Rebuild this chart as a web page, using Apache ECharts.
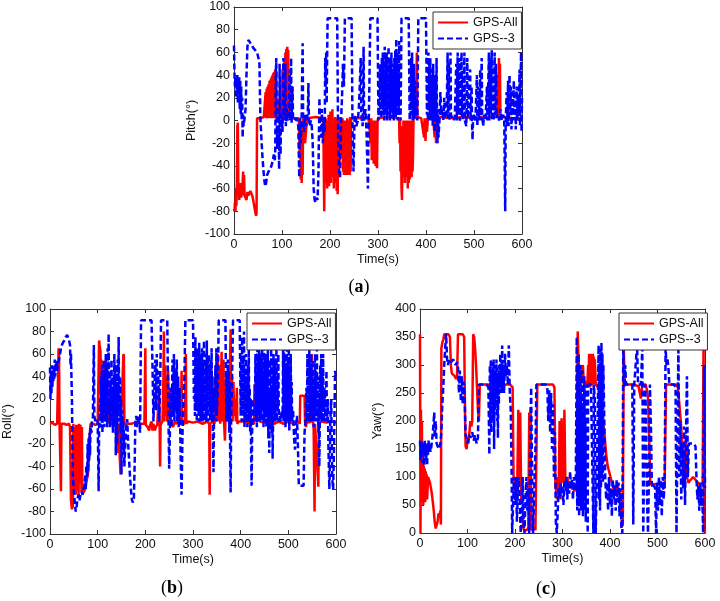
<!DOCTYPE html>
<html><head><meta charset="utf-8">
<script src="https://cdn.jsdelivr.net/npm/echarts@6/dist/echarts.min.js"></script>
<style>html,body{margin:0;padding:0;background:#fff}#c{width:720px;height:601px}</style>
</head><body><div id="c"></div>
<script>
// ---- data: [time(s), value] ----
const seriesNames = ['GPS-All', 'GPS--3'];
const xTicks = [0, 100, 200, 300, 400, 500, 600];

const pitchAll = [[0,-78],[1,-80],[2,-72],[3,-80],[4,-60],[5,-75],[6,-55],[7,-5],[8,-2],[9,-60],[10,-55],[11,-70],[12,-58],[13,-65],[14,-55],[15,-68],[16,-60],[17,-66],[18,-55],[19,-45],[20,-62],[21,-48],[22,-66],[24,-65],[26,-70],[28,-63],[30,-66],[32,-64],[34,-62],[36,-63],[38,-66],[40,-70],[42,-75],[44,-80],[46,-84],[47,-82],[48,2],[55,2],[62,3],[65,2],
[66,25],[67,2],[68,28],[69,2],[70,30],[71,3],[72,32],[73,2],[74,35],[75,3],[76,36],[77,2],[78,38],[79,3],[80,40],[81,2],[82,42],[83,3],[84,43],[85,2],[86,45],[87,3],[88,44],[89,2],[90,5],[93,3],
[95,20],[96,2],[97,30],[98,3],[99,38],[100,2],[101,45],[102,5],[103,50],[104,3],[105,55],[106,8],[107,60],[108,5],[109,63],[110,10],[111,65],[112,5],[113,62],[114,3],[115,2],
[125,2],[135,2],[137,-30],[138,2],[139,-52],[140,-10],[141,-55],[142,-5],[143,-48],[144,2],[146,-15],[148,-20],[150,-10],[152,2],[170,3],[186,2],[188,-80],[189,2],
[190,-40],[191,2],[192,-55],[193,-5],[194,-60],[195,0],[196,-50],[197,5],[198,-58],[199,-2],[200,-45],[201,8],[202,-55],[203,0],[204,-40],[205,10],[206,-50],[207,2],[208,-60],[209,-5],[210,-45],[211,3],[212,-55],[213,0],[214,-62],[215,2],[216,-65],[217,0],[218,-50],[219,3],[220,-40],[221,2],[222,-2],[224,2],
[225,-30],[226,2],[227,-45],[228,-3],[229,-48],[230,0],[231,-45],[232,-5],[233,-48],[234,0],[235,-42],[236,2],[237,-48],[238,-2],[239,-46],[240,0],[241,-48],[242,3],[243,-45],[244,2],[245,3],
[260,2],[280,3],[284,2],[285,-20],[286,2],[287,-35],[288,0],[289,-30],[290,-5],[291,-38],[292,0],[293,-32],[294,-3],[295,-40],[296,0],[297,-38],[298,-42],[299,-2],[300,2],[320,3],[344,2],
[345,-20],[346,2],[347,-45],[348,-5],[349,-60],[350,-70],[351,-10],[352,-50],[353,0],[354,-45],[355,-3],[356,-55],[357,0],[358,-48],[359,-5],[360,-50],[361,0],[362,-60],[363,-3],[364,-55],[365,0],[366,-52],[367,-5],[368,-48],[369,0],[370,-50],[371,-2],[372,-45],[373,-30],[374,2],
[376,12],[377,2],[378,15],[379,5],[381,60],[382,3],[390,2],[396,-15],[397,2],[399,-18],[400,2],[402,-10],[404,2],[415,2],[418,-15],[419,2],[421,-20],[422,2],[430,3],[450,2],[480,3],[500,2],[520,3],[545,3],
[548,20],[549,3],[550,40],[551,5],[552,55],[553,8],[554,50],[555,2],[557,5],[560,3],[580,2],[600,2]];

const pitchG3 = [[0,66],[1,40],[2,30],[3,38],[4,20],[5,35],[6,22],[7,40],[8,15],[9,35],[10,28],[11,38],[12,10],[13,35],[14,5],[15,30],[16,0],[17,20],[18,-15],[19,5],[20,-5],[22,2],[24,10],[26,40],[28,65],[30,71],[33,70],[36,67],[40,64],[44,62],[48,60],[51,55],[53,50],[55,2],[57,-15],[59,-30],[61,-42],[63,-52],[65,-58],[67,-55],[69,-48],[72,-45],[75,-44],[78,-40],[81,-35],[83,-30],[85,-35],[86,-25],[87,40],[88,55],[89,5],[90,-25],[91,-10],[92,-20],[93,5],[94,-43],[95,50],[96,0],[97,-30],[98,5],[100,2],[101,-10],[102,10],[103,55],[104,5],[105,0],[106,20],[107,50],[108,-5],[109,0],[110,10],[111,2],[112,0],[114,10],[116,45],[117,0],[119,55],[120,-2],[122,30],[123,2],[125,0],[130,2],[134,-5],[135,-30],[136,-50],[137,2],[139,-20],[141,5],[142,40],[143,68],[144,2],[146,-10],[148,5],[150,-5],[152,0],[154,10],[155,33],[156,2],[158,-5],[160,0],[162,-5],[164,-20],[166,-60],[168,-70],[170,-72],[172,-68],[174,-70],[176,-45],[177,-10],[178,20],[179,-5],[181,-15],[183,10],[185,-20],[187,0],[189,-10],[190,55],[191,30],[192,60],[193,15],[195,90],[215,90],[217,-20],[219,-45],[221,-50],[223,0],[225,20],[227,50],[229,30],[231,90],[245,90],[247,-10],[249,-45],[251,0],[253,5],[255,-5],[258,0],[260,10],[262,30],[264,55],[265,5],[268,-5],[270,65],[271,0],[274,10],[276,-10],[278,-40],[279,-60],[280,-20],[282,30],[284,90],[299,90],[301,0],[303,30],[304,50],[305,5],[306,45],[307,2],[308,55],[309,10],[310,60],[311,5],[312,45],[313,0],[314,65],[315,15],[316,55],[317,5],[318,60],[319,0],[320,50],[321,10],[322,65],[323,5],[324,55],[325,0],[326,45],[327,10],[328,60],[329,2],[330,50],[331,5],[332,40],[333,0],[334,55],[335,10],[336,62],[337,3],[338,72],[339,15],[340,60],[341,0],[342,50],[343,5],[344,70],[345,20],[347,0],[349,90],[364,90],[366,0],[367,40],[368,5],[369,55],[370,10],[371,60],[372,0],[373,45],[374,5],[375,50],[376,0],[377,35],[378,5],[380,20],[382,0],[384,90],[400,90],[402,5],[403,40],[404,0],[405,60],[406,10],[407,50],[408,0],[409,55],[410,5],[411,45],[412,0],[413,40],[414,-5],[415,50],[416,0],[417,30],[418,-10],[420,40],[421,0],[422,55],[423,-5],[424,-20],[425,10],[426,-15],[428,0],[430,25],[432,5],[434,10],[436,0],[438,20],[440,2],[443,5],[445,60],[446,2],[448,50],[449,0],[451,60],[452,5],[454,3],[456,0],[460,2],[463,50],[464,0],[466,60],[467,5],[469,55],[470,0],[472,2],[474,60],[475,3],[477,40],[478,0],[480,60],[481,0],[484,-5],[486,55],[487,2],[490,3],[492,45],[493,0],[495,30],[496,-5],[497,-17],[498,0],[500,5],[503,0],[506,40],[507,-5],[509,30],[510,0],[513,45],[514,0],[516,55],[517,5],[519,-5],[521,5],[524,0],[527,30],[528,0],[531,60],[532,0],[534,55],[535,5],[537,62],[538,0],[540,40],[541,0],[543,60],[544,5],[546,50],[547,2],[549,5],[552,0],[555,10],[558,0],[561,5],[563,0],[565,-80],[566,-2],[568,25],[569,-5],[571,35],[572,-5],[574,40],[575,5],[577,30],[578,-8],[580,20],[581,0],[583,35],[584,5],[586,10],[587,-8],[589,30],[590,0],[592,20],[593,5],[595,45],[596,-5],[598,60],[599,-10],[600,20]];

const rollAll = [[0,-2],[5,-1],[10,-3],[15,-2],[17,-2],[18,65],[19,60],[20,-2],[22,-3],[23,-62],[24,-2],[30,-2],[35,-3],[40,-2],[42,-5],[44,-70],[46,-78],[48,-75],[49,-2],[51,-60],[52,-5],[54,-65],[55,-3],[57,-62],[58,-3],[60,-68],[61,-2],[63,-55],[64,-3],[66,-62],[67,-5],[68,-65],[70,-66],[72,-64],[74,-60],[76,-55],[78,-50],[80,-45],[82,-30],[84,-8],[85,-2],[90,-2],[95,-3],[100,-2],[102,-1],[103,72],[104,68],[106,62],[107,10],[108,55],[110,55],[111,5],[112,50],[114,45],[115,0],[116,40],[118,2],[120,30],[121,0],[124,20],[125,-2],[128,15],[129,-3],[132,10],[133,-2],[136,0],[140,-2],[142,-28],[143,-2],[147,-2],[148,-47],[149,-2],[152,-2],[154,60],[155,58],[156,-2],[160,-1],[170,-2],[180,-1],[190,-2],[198,-2],[200,65],[201,-3],[205,-5],[208,-8],[210,-3],[213,0],[215,-8],[217,-2],[220,-8],[222,-5],[225,-3],[228,-2],[229,30],[230,-2],[231,-40],[232,-3],[236,0],[238,40],[239,80],[240,0],[242,50],[243,5],[245,40],[246,0],[248,45],[249,2],[252,30],[253,-2],[255,0],[258,-5],[262,0],[265,-2],[270,0],[275,-2],[276,45],[277,-1],[280,0],[283,-2],[285,60],[286,-2],[290,0],[300,-1],[310,0],[320,-2],[330,0],[334,-2],[335,-65],[336,-2],[340,0],[345,-2],[348,45],[349,0],[352,60],[353,0],[356,50],[357,-2],[360,62],[361,0],[364,55],[365,0],[367,-17],[368,0],[370,40],[371,0],[374,45],[375,5],[377,30],[378,60],[379,82],[380,5],[382,40],[383,0],[385,35],[386,5],[388,20],[390,0],[392,30],[393,-2],[396,0],[400,-1],[410,0],[420,-2],[428,-2],[429,33],[430,30],[432,10],[434,20],[436,15],[438,20],[440,0],[450,-1],[460,0],[470,-2],[480,0],[490,-2],[500,0],[510,-2],[520,0],[524,-2],[525,23],[534,23],[535,0],[537,-5],[538,-2],[540,0],[545,-1],[548,0],[549,60],[550,0],[553,-2],[555,-80],[556,-2],[560,-2],[563,-58],[564,-2],[570,0],[580,-1],[590,0],[600,-1]];

const rollG3 = [[0,48],[1,20],[2,45],[3,25],[4,50],[5,30],[6,45],[7,35],[8,50],[9,38],[10,55],[11,40],[12,52],[13,45],[14,55],[15,45],[17,50],[19,55],[21,60],[23,65],[25,68],[27,70],[30,72],[33,75],[36,77],[38,76],[40,72],[42,68],[43,50],[44,60],[45,40],[46,20],[47,-20],[48,-50],[50,-62],[52,-72],[54,-80],[56,-75],[58,-68],[60,-65],[62,-70],[64,-65],[66,-62],[68,-65],[70,-60],[72,-58],[74,-48],[75,-60],[76,-40],[78,-50],[79,-20],[80,-45],[81,-15],[82,-35],[83,-10],[84,-30],[85,-5],[87,-10],[88,0],[90,2],[91,40],[92,68],[93,5],[95,0],[97,2],[100,0],[101,-30],[102,-62],[103,-5],[104,0],[105,20],[106,-5],[107,40],[108,0],[109,50],[110,-10],[111,45],[112,5],[113,55],[114,-5],[115,40],[116,10],[117,60],[118,0],[119,50],[120,-5],[121,65],[122,10],[123,78],[124,5],[125,45],[126,-5],[127,35],[128,10],[129,55],[130,0],[131,40],[132,-10],[133,30],[134,5],[135,60],[136,-5],[137,50],[138,-30],[139,10],[140,35],[141,-20],[142,55],[143,0],[144,75],[145,20],[146,5],[147,40],[148,-10],[149,20],[150,-47],[151,-5],[152,10],[153,-30],[154,0],[155,-10],[156,-40],[158,-20],[160,-5],[162,2],[164,-20],[166,-35],[168,-50],[170,-62],[172,-70],[174,-72],[176,-68],[178,-30],[179,0],[181,5],[183,-5],[185,5],[187,0],[189,-10],[191,90],[213,90],[215,50],[217,0],[219,30],[221,55],[222,10],[224,60],[225,20],[227,45],[229,0],[231,30],[233,90],[246,90],[248,20],[250,-42],[252,0],[254,30],[255,-5],[257,55],[258,5],[260,60],[261,0],[263,45],[264,10],[266,55],[267,0],[269,40],[270,-5],[272,30],[274,-30],[276,-65],[278,-10],[280,20],[282,40],[284,90],[300,90],[302,20],[303,60],[304,5],[305,75],[306,10],[307,60],[308,0],[309,65],[310,10],[311,55],[312,0],[313,70],[314,5],[315,60],[316,0],[317,50],[318,15],[319,65],[320,0],[321,55],[322,10],[323,72],[324,0],[325,60],[326,5],[327,50],[328,0],[329,72],[330,10],[331,55],[332,0],[333,60],[334,15],[335,45],[336,0],[337,55],[338,5],[339,65],[340,0],[341,40],[342,-20],[343,-45],[344,0],[345,30],[346,10],[347,50],[348,0],[349,65],[350,5],[352,30],[354,90],[368,90],[370,0],[371,40],[372,5],[373,55],[374,0],[375,45],[376,-10],[377,35],[378,-30],[379,-63],[380,0],[382,40],[384,90],[398,90],[400,5],[401,60],[402,0],[403,75],[404,10],[405,55],[406,0],[407,80],[408,-5],[409,45],[410,0],[411,60],[412,5],[413,40],[414,-5],[415,50],[416,10],[417,65],[418,0],[419,30],[420,-10],[421,20],[422,-30],[423,-57],[424,-10],[425,20],[426,0],[428,10],[430,5],[431,60],[432,0],[433,45],[434,-5],[435,65],[436,0],[437,55],[438,10],[439,80],[440,0],[441,60],[442,5],[443,50],[444,0],[445,65],[446,10],[447,45],[448,-5],[449,70],[450,0],[451,55],[452,5],[453,60],[454,-5],[455,40],[456,0],[457,65],[458,-15],[459,30],[460,-28],[461,10],[462,55],[463,0],[464,65],[465,-10],[466,30],[467,-33],[468,0],[469,60],[470,10],[471,50],[472,0],[473,55],[474,5],[475,65],[476,0],[477,40],[478,10],[479,60],[480,0],[482,5],[484,0],[486,10],[488,5],[489,65],[490,0],[491,70],[492,5],[493,60],[494,-5],[495,50],[496,0],[497,65],[498,10],[499,55],[500,0],[501,70],[502,-8],[503,40],[504,0],[505,60],[506,5],[507,35],[508,0],[510,10],[512,-15],[514,-25],[516,-5],[518,5],[520,-20],[522,-57],[532,-57],[534,-10],[536,0],[538,30],[539,0],[540,60],[541,5],[542,45],[543,0],[544,65],[545,10],[546,50],[547,0],[548,60],[549,5],[550,40],[551,0],[552,55],[553,-5],[554,30],[555,0],[556,60],[557,10],[558,45],[559,0],[560,65],[561,5],[562,40],[563,-10],[564,20],[565,-40],[566,0],[567,50],[568,5],[569,60],[570,0],[571,45],[572,10],[573,60],[574,0],[576,30],[578,0],[580,45],[581,0],[583,20],[584,-20],[585,-40],[586,-60],[587,-45],[588,0],[590,20],[592,-50],[594,-60],[596,-20],[598,45],[600,40]];

const yawAll = [[0,355],[1,0],[2,220],[3,60],[4,200],[5,55],[6,150],[7,50],[8,120],[9,60],[10,115],[11,55],[12,110],[13,70],[14,105],[15,60],[17,100],[19,95],[21,90],[23,80],[25,70],[27,55],[29,40],[31,20],[33,8],[35,5],[37,20],[39,35],[41,30],[43,40],[44,15],[45,330],[47,340],[49,345],[51,355],[55,355],[60,355],[63,350],[65,300],[67,285],[70,282],[73,280],[76,275],[78,280],[80,355],[90,355],[93,350],[95,200],[96,155],[98,150],[100,165],[102,160],[104,180],[106,200],[108,190],[110,200],[112,355],[114,350],[116,330],[118,300],[120,260],[122,220],[124,200],[126,265],[140,265],[160,265],[180,265],[190,265],[195,260],[197,100],[199,60],[201,100],[203,50],[205,100],[207,220],[209,100],[211,215],[213,60],[215,100],[217,10],[219,5],[222,8],[225,5],[228,10],[230,215],[231,90],[233,225],[234,5],[237,5],[240,10],[243,5],[247,265],[270,265],[280,265],[283,260],[285,90],[288,60],[290,100],[292,80],[294,200],[296,60],[298,205],[300,90],[302,100],[304,220],[306,90],[310,100],[315,80],[320,90],[325,75],[330,80],[332,360],[334,300],[336,265],[340,265],[343,300],[345,265],[350,270],[352,260],[354,300],[355,265],[356,320],[357,260],[358,318],[359,265],[360,320],[361,262],[362,318],[363,265],[364,320],[365,270],[366,315],[367,265],[368,310],[370,265],[375,260],[378,250],[380,240],[383,210],[386,195],[389,170],[392,140],[395,120],[398,110],[401,100],[404,90],[407,80],[410,75],[415,85],[420,75],[423,60],[425,10],[427,20],[429,330],[431,265],[440,265],[450,265],[460,262],[465,240],[468,265],[475,265],[478,255],[480,240],[483,150],[485,87],[500,87],[510,85],[515,80],[518,265],[530,265],[540,265],[543,260],[546,230],[549,200],[552,160],[555,130],[558,100],[560,175],[562,100],[565,90],[570,95],[575,100],[580,95],[585,90],[590,85],[595,90],[597,350],[598,10],[600,0]];

const yawG3 = [[0,165],[1,130],[2,160],[3,140],[4,165],[5,125],[6,160],[7,135],[8,150],[9,120],[10,165],[11,145],[12,160],[13,130],[14,150],[15,120],[16,160],[17,140],[18,165],[19,150],[20,160],[22,145],[24,155],[26,170],[28,190],[30,215],[31,170],[33,200],[35,160],[37,155],[40,150],[43,160],[45,180],[47,230],[49,260],[51,300],[53,330],[55,355],[57,310],[59,300],[61,310],[65,305],[70,310],[75,300],[78,305],[80,295],[82,250],[84,290],[86,235],[88,280],[90,230],[92,270],[94,240],[96,175],[98,170],[100,160],[103,175],[106,170],[110,180],[113,165],[116,175],[119,160],[122,170],[124,265],[130,265],[140,265],[144,260],[146,140],[147,300],[148,200],[149,310],[150,180],[151,290],[152,230],[153,305],[154,200],[155,310],[156,150],[157,280],[158,220],[159,300],[160,240],[161,310],[162,200],[163,295],[164,170],[165,280],[166,230],[167,300],[168,250],[169,320],[170,270],[171,310],[172,250],[173,335],[174,260],[175,300],[177,250],[179,320],[181,280],[183,300],[185,265],[187,335],[189,250],[191,220],[193,100],[194,0],[196,50],[198,100],[200,50],[202,100],[204,20],[206,80],[208,100],[210,50],[212,0],[214,30],[216,100],[218,20],[220,0],[222,60],[224,100],[226,40],[228,80],[230,0],[232,150],[234,260],[236,100],[238,0],[240,0],[243,150],[245,265],[255,265],[265,265],[268,260],[270,200],[272,255],[274,180],[276,250],[278,150],[280,230],[282,100],[284,180],[286,20],[288,0],[290,0],[292,80],[294,60],[296,90],[298,70],[300,85],[302,50],[304,95],[306,75],[308,100],[310,60],[312,90],[314,70],[316,110],[318,80],[320,95],[322,60],[324,100],[326,75],[328,90],[330,350],[331,40],[332,300],[333,50],[334,320],[335,30],[336,260],[337,60],[338,300],[339,40],[340,250],[341,80],[342,290],[343,30],[344,220],[345,60],[346,280],[347,40],[348,200],[349,20],[350,265],[352,265],[353,0],[354,265],[360,265],[364,265],[365,0],[366,265],[368,240],[370,0],[372,0],[374,200],[376,335],[377,60],[378,300],[379,40],[380,330],[381,80],[382,340],[383,100],[384,320],[385,90],[386,300],[388,200],[390,100],[392,60],[394,90],[396,40],[398,100],[400,50],[402,80],[404,30],[406,95],[408,60],[410,85],[412,40],[414,95],[416,55],[418,90],[420,30],[422,80],[424,10],[426,0],[428,335],[430,260],[432,300],[434,265],[440,265],[447,265],[449,15],[451,265],[455,265],[457,335],[459,265],[465,265],[468,330],[470,0],[472,0],[474,265],[476,200],[478,60],[480,0],[482,100],[484,265],[486,200],[488,90],[490,80],[492,85],[495,80],[497,0],[499,90],[501,40],[503,100],[505,50],[507,95],[509,30],[511,100],[513,60],[515,90],[517,330],[519,300],[521,310],[523,295],[525,265],[530,265],[535,265],[538,260],[540,0],[542,0],[544,335],[546,100],[548,200],[550,60],[552,160],[554,80],[556,190],[558,50],[560,180],[562,280],[564,100],[566,160],[570,160],[575,160],[580,155],[582,100],[584,60],[586,85],[588,40],[590,90],[592,50],[594,80],[596,0],[598,300],[600,80]];

// ---- panels ----
const panels = [
  { name: 'Pitch(°)', all: pitchAll, g3: pitchG3, min: -100, max: 100, interval: 20, cap: 'a' },
  { name: 'Roll(°)',  all: rollAll,  g3: rollG3,  min: -100, max: 100, interval: 20, cap: 'b' },
  { name: 'Yaw(°)',   all: yawAll,   g3: yawG3,   min: 0,    max: 400, interval: 50, cap: 'c' }
];
const gridBoxes = [
  { left: 234, top: 7,   width: 288, height: 227 },
  { left: 49,  top: 309, width: 287, height: 225 },
  { left: 420, top: 309, width: 285, height: 224 }
];
const legendPos = [ {left: 433, top: 12}, {left: 247, top: 313}, {left: 619, top: 313} ];
const capPos = [ {x: 359, y: 287}, {x: 172, y: 588}, {x: 546, y: 589} ];

const FONT = 'Liberation Sans, Arial, sans-serif';
const axisLineStyle = { color: '#333', width: 1 };
const grid = [], xAxis = [], yAxis = [], series = [], legend = [], graphic = [];

panels.forEach((p, i) => {
  grid.push(Object.assign({ containLabel: false }, gridBoxes[i]));
  const xBase = { type: 'value', gridIndex: i, min: 0, max: 600, interval: 100,
    axisLine: { show: true, onZero: false, lineStyle: axisLineStyle },
    axisTick: { show: true, inside: true, length: 4, lineStyle: axisLineStyle },
    splitLine: { show: false } };
  xAxis.push(Object.assign({}, xBase, { position: 'bottom',
    name: 'Time(s)', nameLocation: 'middle', nameGap: 19,
    nameTextStyle: { fontFamily: FONT, fontSize: 12.5, color: '#111' },
    axisLabel: { show: true, margin: 4, fontFamily: FONT, fontSize: 12.5, color: '#111' } }));
  xAxis.push(Object.assign({}, xBase, { position: 'top', axisLabel: { show: false } }));
  const yBase = { type: 'value', gridIndex: i, min: p.min, max: p.max, interval: p.interval,
    axisLine: { show: true, onZero: false, lineStyle: axisLineStyle },
    axisTick: { show: true, inside: true, length: 4, lineStyle: axisLineStyle },
    splitLine: { show: false } };
  yAxis.push(Object.assign({}, yBase, { position: 'left',
    name: p.name, nameLocation: 'middle', nameGap: 36,
    nameTextStyle: { fontFamily: FONT, fontSize: 12.5, color: '#111' },
    axisLabel: { show: true, margin: 4, fontFamily: FONT, fontSize: 12.5, color: '#111' } }));
  yAxis.push(Object.assign({}, yBase, { position: 'right', axisLabel: { show: false } }));

  series.push({ name: seriesNames[0], type: 'line', xAxisIndex: 2 * i, yAxisIndex: 2 * i,
    data: p.all, showSymbol: false, symbol: 'none', animation: false, clip: true,
    lineStyle: { color: '#ff0000', width: 2.5, type: 'solid' }, itemStyle: { color: '#ff0000' }, z: 2 });
  series.push({ name: seriesNames[1], type: 'line', xAxisIndex: 2 * i, yAxisIndex: 2 * i,
    data: p.g3, showSymbol: false, symbol: 'none', animation: false, clip: true,
    lineStyle: { color: '#0000ff', width: 2.5, type: [6, 3] }, itemStyle: { color: '#0000ff' }, z: 3 });

  legend.push({ data: seriesNames, orient: 'vertical', left: legendPos[i].left, top: legendPos[i].top,
    backgroundColor: '#fff', borderColor: '#333', borderWidth: 1, borderRadius: 0,
    padding: [4, 4, 4, 4], itemGap: 3, itemWidth: 30, itemHeight: 13, selectedMode: false,
    itemStyle: { opacity: 0, borderWidth: 0 },
    textStyle: { fontFamily: FONT, fontSize: 12.5, color: '#111' }, z: 10 });

  graphic.push({ type: 'text', x: capPos[i].x, y: capPos[i].y,
    style: { text: '{p|(}{b|' + p.cap + '}{p|)}', align: 'center', verticalAlign: 'middle',
      rich: { p: { fontFamily: 'Liberation Serif, Times New Roman, serif', fontSize: 18, fill: '#000', color: '#000' },
              b: { fontFamily: 'Liberation Serif, Times New Roman, serif', fontSize: 18, fontWeight: 'bold', fill: '#000', color: '#000' } } } });
});

const chart = echarts.init(document.getElementById('c'), null, { renderer: 'canvas' });
chart.setOption({ animation: false, backgroundColor: '#fff', grid, xAxis, yAxis, series, legend, graphic });
</script>
</body></html>
